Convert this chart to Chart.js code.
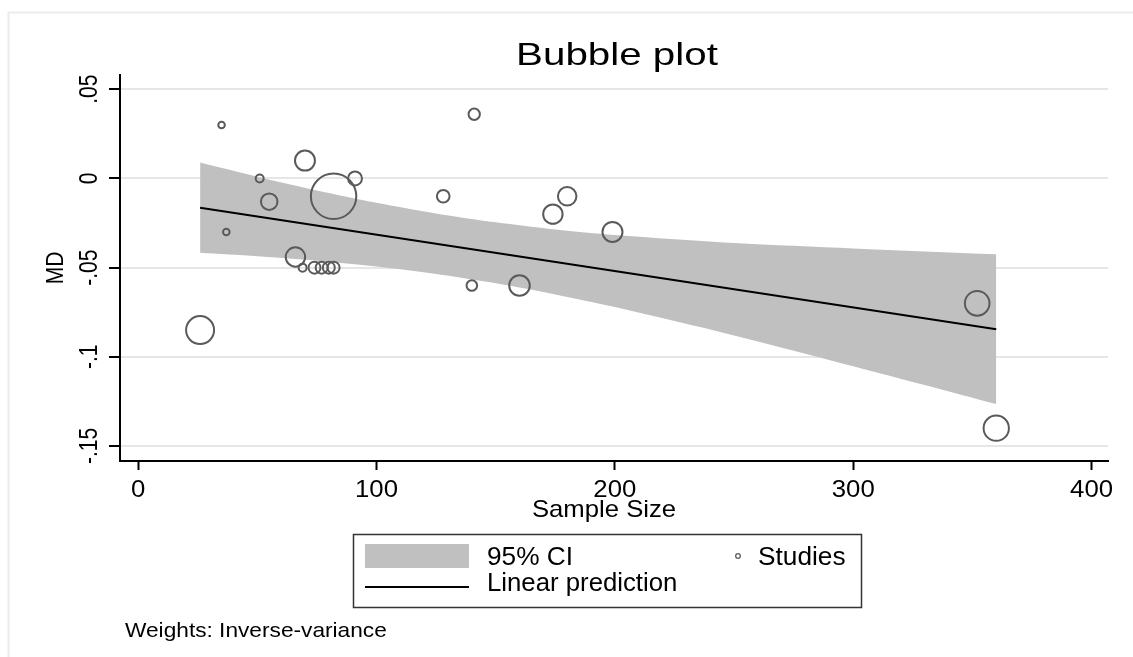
<!DOCTYPE html>
<html>
<head>
<meta charset="utf-8">
<title>Bubble plot</title>
<script src="https://cdn.jsdelivr.net/npm/chart.js@4.4.1/dist/chart.umd.min.js"></script>
<style>
  html, body { margin: 0; padding: 0; background: #fff; }
  #wrap { width: 1133px; height: 657px; position: relative; }
</style>
</head>
<body>
<div id="wrap"><canvas id="bubble"></canvas></div>
<script>
// studies: sample size, mean difference, inverse-variance weight
const sampleSize = [26, 35, 37, 51, 55, 66, 69, 70, 74, 77, 80, 82, 82, 91, 128, 140, 141, 160, 174, 180, 199, 352, 360];
const md         = [-0.085, 0.030, -0.030, 0.000, -0.013, -0.044, -0.050, 0.010, -0.050, -0.050, -0.050, -0.010, -0.050, 0.000, -0.010, -0.060, 0.036, -0.060, -0.020, -0.010, -0.030, -0.070, -0.140];
const weight     = [49, 2.7, 2.7, 4, 17, 23.5, 4, 25, 9, 9, 9, 129, 9, 12, 10, 7, 8, 26.5, 23.5, 21.5, 25, 38, 40];

// fitted line and 95% CI band
const fitX     = [26, 360];
const fitY     = [-0.0164, -0.0845];
const bandX    = [26, 50, 75, 100, 125, 150, 175, 200, 250, 300, 360];
const bandUp   = [0.0089, 0.0010, -0.0067, -0.0136, -0.0196, -0.0246, -0.0286, -0.0317, -0.0362, -0.0392, -0.0425];
const bandLow  = [-0.0417, -0.0436, -0.0461, -0.0494, -0.0536, -0.0588, -0.0650, -0.0721, -0.0880, -0.1053, -0.1265];

const xTicks = [0, 100, 200, 300, 400];
const yTicks = [0.05, 0, -0.05, -0.1, -0.15];
const yTickText = ['.05', '0', '-.05', '-.1', '-.15'];

const FONT = '"Liberation Sans", Arial, sans-serif';

// stretched text helper (the graph's type is set wide)
function txt(ctx, s, x, y, size, sx, align, base, rot) {
  ctx.save();
  ctx.translate(x, y);
  ctx.scale(sx, 1);
  if (rot) ctx.rotate(rot);
  ctx.font = size + 'px ' + FONT;
  ctx.fillStyle = '#000';
  ctx.textAlign = align;
  ctx.textBaseline = base;
  ctx.fillText(s, 0, 0);
  ctx.restore();
}

const decor = {
  id: 'decor',
  beforeDraw(chart) {
    const ctx = chart.ctx;
    ctx.save();
    ctx.strokeStyle = '#ececec';
    ctx.lineWidth = 2;
    ctx.strokeRect(8.5, 12.5, 1200, 800);
    ctx.restore();
  },
  afterDraw(chart) {
    const ctx = chart.ctx;
    const xs = chart.scales.x, ys = chart.scales.y;

    txt(ctx, 'Bubble plot', 617, 65, 32, 1.26, 'center', 'alphabetic');

    yTicks.forEach((v, i) => {
      txt(ctx, yTickText[i], 97, ys.getPixelForValue(v), 21, 1.2, 'center', 'alphabetic', -Math.PI / 2);
    });
    txt(ctx, 'MD', 63, (chart.chartArea.top + chart.chartArea.bottom) / 2, 21, 1.15, 'center', 'alphabetic', -Math.PI / 2);

    xTicks.forEach(v => {
      txt(ctx, String(v), xs.getPixelForValue(v), 497, 23, 1.12, 'center', 'alphabetic');
    });
    txt(ctx, 'Sample Size', 604, 517, 24, 1.07, 'center', 'alphabetic');

    // legend
    ctx.save();
    ctx.strokeStyle = '#333';
    ctx.lineWidth = 1.5;
    ctx.strokeRect(353.5, 534.5, 508, 73);
    ctx.fillStyle = '#c0c0c0';
    ctx.fillRect(365, 544, 104, 24);
    ctx.strokeStyle = '#000';
    ctx.lineWidth = 2;
    ctx.beginPath();
    ctx.moveTo(365, 587);
    ctx.lineTo(469, 587);
    ctx.stroke();
    ctx.strokeStyle = '#5a5a5a';
    ctx.lineWidth = 1.3;
    ctx.beginPath();
    ctx.arc(738, 556, 2.3, 0, Math.PI * 2);
    ctx.stroke();
    ctx.restore();
    txt(ctx, '95% CI', 487, 565, 25, 1.05, 'left', 'alphabetic');
    txt(ctx, 'Studies', 758, 565, 25, 1.05, 'left', 'alphabetic');
    txt(ctx, 'Linear prediction', 487, 591, 25, 1.03, 'left', 'alphabetic');

    txt(ctx, 'Weights: Inverse-variance', 125, 637, 21, 1.08, 'left', 'alphabetic');
  }
};

new Chart(document.getElementById('bubble'), {
  type: 'scatter',
  data: {
    datasets: [
      {
        type: 'bubble',
        label: 'Studies',
        data: sampleSize.map((x, i) => ({ x, y: md[i], r: 2 * Math.sqrt(weight[i]) })),
        backgroundColor: 'rgba(0,0,0,0)',
        borderColor: '#5a5a5a',
        borderWidth: 2,
        order: 0,
      },
      {
        type: 'line',
        label: 'Linear prediction',
        data: fitX.map((x, i) => ({ x, y: fitY[i] })),
        borderColor: '#000',
        borderWidth: 2,
        pointRadius: 0,
        fill: false,
        order: 1,
      },
      {
        type: 'line',
        label: '95% CI',
        data: bandX.map((x, i) => ({ x, y: bandUp[i] })),
        borderWidth: 0,
        borderColor: 'rgba(0,0,0,0)',
        backgroundColor: '#c0c0c0',
        pointRadius: 0,
        tension: 0.3,
        fill: '+1',
        order: 2,
      },
      {
        type: 'line',
        label: 'lower',
        data: bandX.map((x, i) => ({ x, y: bandLow[i] })),
        borderWidth: 0,
        borderColor: 'rgba(0,0,0,0)',
        pointRadius: 0,
        tension: 0.3,
        fill: false,
        order: 3,
      },
    ]
  },
  options: {
    responsive: true,
    maintainAspectRatio: false,
    animation: false,
    events: [],
    layout: { padding: { left: 0, right: 18, top: 75, bottom: 156 } },
    plugins: {
      legend: { display: false },
      tooltip: { enabled: false },
    },
    scales: {
      x: {
        type: 'linear',
        min: -7.6,
        max: 407,
        afterBuildTicks: s => { s.ticks = xTicks.map(v => ({ value: v })); },
        afterFit: s => { s.height = 40; },
        ticks: { display: false },
        grid: { drawOnChartArea: false, drawTicks: true, tickLength: 9, tickColor: '#000', tickWidth: 2 },
        border: { color: '#000', width: 2 },
      },
      y: {
        type: 'linear',
        min: -0.1584,
        max: 0.058,
        afterBuildTicks: s => { s.ticks = yTicks.map(v => ({ value: v })); },
        afterFit: s => { s.width = 120; },
        ticks: { display: false },
        grid: { color: '#e6e6e6', lineWidth: 2, drawTicks: true, tickLength: 11, tickColor: '#000', tickWidth: 2 },
        border: { color: '#000', width: 2 },
      },
    },
  },
  plugins: [decor],
});
</script>
</body>
</html>
